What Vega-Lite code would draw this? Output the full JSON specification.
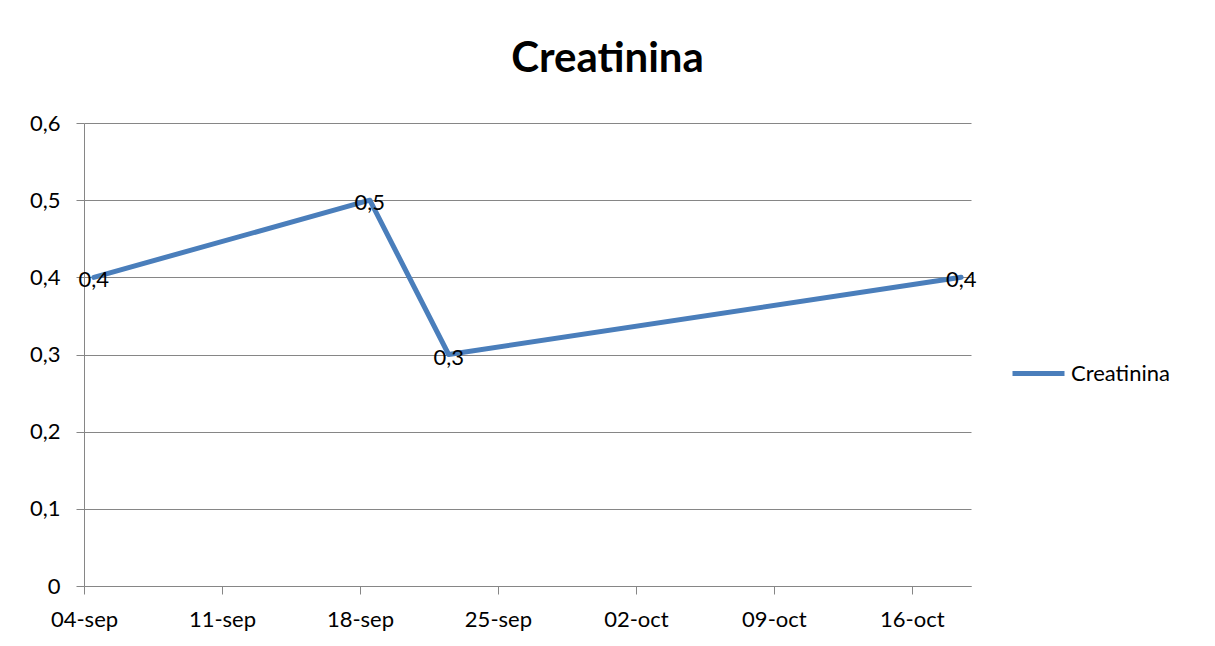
{
  "$schema": "https://vega.github.io/schema/vega-lite/v6.json",
  "width": 887,
  "height": 463,
  "autosize": {"type": "none"},
  "padding": {"left": 84, "top": 123, "right": 244, "bottom": 60},
  "background": "white",
  "title": {
    "text": "Creatinina",
    "font": "Lato",
    "fontSize": 42,
    "fontWeight": "bold",
    "color": "#000000",
    "anchor": "middle",
    "dx": 80,
    "offset": 31
  },
  "data": {
    "values": [
      {"fecha": "2012-09-04", "valor": 0.4, "serie": "Creatinina"},
      {"fecha": "2012-09-18", "valor": 0.5, "serie": "Creatinina"},
      {"fecha": "2012-09-22", "valor": 0.3, "serie": "Creatinina"},
      {"fecha": "2012-10-18", "valor": 0.4, "serie": "Creatinina"}
    ]
  },
  "encoding": {
    "x": {
      "field": "fecha",
      "type": "temporal",
      "timeUnit": "utcyearmonthdate",
      "bandPosition": 0.5,
      "title": null,
      "scale": {
        "type": "utc",
        "nice": false,
        "domain": [
          {"year": 2012, "month": 9, "date": 4, "utc": true},
          {"year": 2012, "month": 10, "date": 19, "utc": true}
        ]
      },
      "axis": {
        "values": [
          {"year": 2012, "month": 9, "date": 4, "utc": true},
          {"year": 2012, "month": 9, "date": 11, "utc": true},
          {"year": 2012, "month": 9, "date": 18, "utc": true},
          {"year": 2012, "month": 9, "date": 25, "utc": true},
          {"year": 2012, "month": 10, "date": 2, "utc": true},
          {"year": 2012, "month": 10, "date": 9, "utc": true},
          {"year": 2012, "month": 10, "date": 16, "utc": true}
        ],
        "labelExpr": "utcFormat(datum.value, '%d') + '-' + lower(utcFormat(datum.value, '%b'))",
        "grid": false,
        "tickSize": 8,
        "labelPadding": 15,
        "labelFlush": false,
        "labelOverlap": false
      }
    },
    "y": {
      "field": "valor",
      "type": "quantitative",
      "title": null,
      "scale": {"domain": [0, 0.6], "nice": false},
      "axis": {
        "values": [0, 0.1, 0.2, 0.3, 0.4, 0.5, 0.6],
        "labelExpr": "replace(toString(round(datum.value * 10) / 10), '.', ',')",
        "grid": true,
        "tickSize": 8,
        "labelPadding": 16
      }
    }
  },
  "layer": [
    {
      "mark": {"type": "line", "strokeWidth": 5, "strokeCap": "round", "strokeJoin": "round"},
      "encoding": {
        "color": {
          "field": "serie",
          "type": "nominal",
          "scale": {"range": ["#4A7EBB"]},
          "legend": {
            "title": null,
            "orient": "none",
            "legendX": 926,
            "legendY": 222,
            "padding": 0,
            "symbolType": "stroke",
            "symbolSize": 2704,
            "symbolStrokeWidth": 5,
            "labelFont": "Lato",
            "labelFontSize": 22,
            "labelColor": "#000000",
            "labelOffset": 4
          }
        }
      }
    },
    {
      "mark": {"type": "text", "align": "center", "baseline": "middle", "dy": 3, "font": "Lato", "fontSize": 22, "color": "#000000"},
      "encoding": {
        "text": {"field": "valor", "type": "quantitative", "format": ".1f"}
      }
    }
  ],
  "config": {
    "locale": {
      "number": {"decimal": ",", "thousands": ".", "grouping": [3], "currency": ["", " €"]}
    },
    "view": {"stroke": null},
    "axis": {
      "labelFont": "Lato",
      "labelFontSize": 22,
      "labelColor": "#000000",
      "domainColor": "#868686",
      "tickColor": "#868686",
      "gridColor": "#868686",
      "domainWidth": 1,
      "tickWidth": 1,
      "gridWidth": 1
    }
  }
}
